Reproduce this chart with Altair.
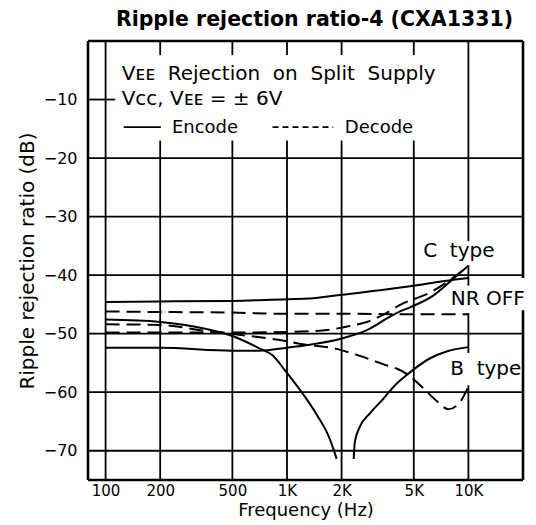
import altair as alt
import pandas as pd

FONT = "DejaVu Sans"

TITLE = "Ripple rejection ratio-4 (CXA1331)"
X_TITLE = "Frequency (Hz)"
Y_TITLE = "Ripple rejection ratio (dB)"

X_DOMAIN = [80, 20000]
Y_DOMAIN = [-75, 0]
FREQ_TICKS = [100, 200, 500, 1000, 2000, 5000, 10000]
FREQ_LABELS = ["100", "200", "500", "1K", "2K", "5K", "10K"]
DB_TICKS = [-10, -20, -30, -40, -50, -60, -70]

# ---- Encode curves (solid) ----
ENC_NROFF_F = [100, 200, 500, 1000, 1334, 1954, 3255, 4775, 8260, 10000]
ENC_NROFF_DB = [-44.6, -44.5, -44.4, -44.1, -44.0, -43.4, -42.6, -41.9, -40.8, -40.5]

ENC_B_LOW_F = [100, 200, 349, 500, 704, 832, 977, 1173, 1456, 1717, 1879]
ENC_B_LOW_DB = [-47.6, -48.0, -49.1, -50.4, -52.5, -53.7, -56.3, -59.5, -63.8, -67.9, -71.4]

ENC_B_HIGH_F = [2333, 2366, 2522, 2866, 3381, 3940, 4594, 6154, 7650, 10000]
ENC_B_HIGH_DB = [-71.4, -68.5, -65.9, -63.6, -61.2, -58.8, -57.0, -54.2, -53.0, -52.3]

ENC_C_F = [100, 200, 500, 704, 1000, 1334, 1954, 2758, 3700, 4198, 4775, 6397, 8260, 10000]
ENC_C_DB = [-52.4, -52.4, -52.9, -52.9, -52.4, -51.9, -50.9, -49.4, -47.1, -46.2, -45.5, -43.5, -40.6, -38.4]

# ---- Decode curves (dashed) ----
DEC_NROFF_F = [100, 200, 500, 1000, 2000, 5000, 10000]
DEC_NROFF_DB = [-46.2, -46.3, -46.4, -46.6, -46.6, -46.7, -46.7]

DEC_B_F = [100, 200, 349, 620, 1000, 1219, 1879, 2523, 3381, 4048, 4594, 5636, 6736, 7745, 9036, 10000]
DEC_B_DB = [-48.4, -48.5, -49.5, -50.4, -51.3, -51.8, -52.6, -53.8, -55.2, -56.0, -56.9, -59.3, -61.6, -62.9, -61.6, -59.0]

DEC_C_F = [100, 500, 1000, 1514, 2217, 2758, 3467, 4198, 6397, 8260, 10000]
DEC_C_DB = [-49.8, -49.8, -49.7, -49.5, -48.7, -48.0, -46.6, -45.1, -42.7, -40.4, -38.4]

# ---- grid segments (freq / dB) ----
VGRID_F = [100, 200, 200, 500, 500, 1000, 1000, 2000, 2000, 5000, 5000, 10000, 10000, 10000, 10000]
VGRID_TOP = [0, 0, -17, 0, -17, 0, -17, 0, -17, 0, -17, 0, -38.3, -46.5, -58.8]
VGRID_BOT = [-75, -2.4, -75, -2.4, -75, -2.4, -75, -2.4, -75, -2.4, -75, -34.2, -41.8, -53.3, -75]

HGRID_DB = [-10, -20, -30, -40, -50, -60, -70]
HGRID_F1 = [80, 80, 80, 80, 80, 80, 80]
HGRID_F2 = [113, 20000, 20000, 20000, 20000, 20000, 20000]

FRAME_H_DB = [0, -75]
FRAME_V_F = [80, 20000, 20000]
FRAME_V_TOP = [0, 0, -46.0]
FRAME_V_BOT = [-75, -40.5, -75]

# ---- annotation texts ----
SP = "\u00a0 "
TEXT_STR = ["V\u1d07\u1d07" + SP + "Rejection" + SP + "on" + SP + "Split" + SP + "Supply",
            "Vcc, V\u1d07\u1d07 = \u00b1 6V",
            "Encode", "Decode", "C" + SP + "type", "NR OFF", "B" + SP + "type"]
TEXT_F = [122.6, 122.6, 232, 2083, 5633, 8000, 7943]
TEXT_DB = [-6.6, -11.0, -15.7, -15.7, -36.9, -45.1, -57.1]
TEXT_SIZE = [20, 20, 18, 18, 20, 20, 20]

LEG_SOLID_F = [125.8, 201.7]
LEG_DASH_F = [832, 1800]
LEG_DB = -14.7

xs = alt.Scale(type="log", domain=X_DOMAIN, nice=False)
ys = alt.Scale(domain=Y_DOMAIN, nice=False, zero=False)

label_expr = ""
for v, l in zip(FREQ_TICKS, FREQ_LABELS):
    label_expr += f"datum.value == {v} ? '{l}' : "
label_expr += "''"

xaxis = alt.Axis(values=FREQ_TICKS, labelExpr=label_expr, title=X_TITLE,
                 labelFontSize=15, labelPadding=3, titleFontSize=18, titlePadding=3)
yaxis = alt.Axis(values=DB_TICKS, title=Y_TITLE, labelFontSize=16, labelPadding=11,
                 titleFontSize=20, titlePadding=6)


def X(f):
    return alt.X(f"{f}:Q", scale=xs, axis=xaxis)


def Y(f):
    return alt.Y(f"{f}:Q", scale=ys, axis=yaxis)


rows = []
for name, kind, fs, ds in [
    ("enc_nroff", "Encode", ENC_NROFF_F, ENC_NROFF_DB),
    ("enc_b_low", "Encode", ENC_B_LOW_F, ENC_B_LOW_DB),
    ("enc_b_high", "Encode", ENC_B_HIGH_F, ENC_B_HIGH_DB),
    ("enc_c", "Encode", ENC_C_F, ENC_C_DB),
    ("dec_nroff", "Decode", DEC_NROFF_F, DEC_NROFF_DB),
    ("dec_b", "Decode", DEC_B_F, DEC_B_DB),
    ("dec_c", "Decode", DEC_C_F, DEC_C_DB),
]:
    for i, (f, d) in enumerate(zip(fs, ds)):
        rows.append({"curve": name, "kind": kind, "i": i, "f": f, "db": d})
curves = pd.DataFrame(rows)

vgrid = pd.DataFrame({"f": VGRID_F, "top": VGRID_TOP, "bot": VGRID_BOT})
hgrid = pd.DataFrame({"db": HGRID_DB, "f1": HGRID_F1, "f2": HGRID_F2})
frame_h = pd.DataFrame({"db": FRAME_H_DB, "f1": [X_DOMAIN[0]] * 2, "f2": [X_DOMAIN[1]] * 2})
frame_v = pd.DataFrame({"f": FRAME_V_F, "top": FRAME_V_TOP, "bot": FRAME_V_BOT})
texts = pd.DataFrame({"t": TEXT_STR, "f": TEXT_F, "db": TEXT_DB, "s": TEXT_SIZE})
leg_solid = pd.DataFrame({"f1": [LEG_SOLID_F[0]], "f2": [LEG_SOLID_F[1]], "db": [LEG_DB]})
leg_dash = pd.DataFrame({"f1": [LEG_DASH_F[0]], "f2": [LEG_DASH_F[1]], "db": [LEG_DB]})

GRID_W = 1.8
vgrid_l = alt.Chart(vgrid).mark_rule(color="black", strokeWidth=GRID_W).encode(
    x=X("f"), y=Y("top"), y2="bot:Q")
hgrid_l = alt.Chart(hgrid).mark_rule(color="black", strokeWidth=GRID_W).encode(
    y=Y("db"), x=X("f1"), x2="f2:Q")
frame_hl = alt.Chart(frame_h).mark_rule(color="black", strokeWidth=2.6).encode(
    y=Y("db"), x=X("f1"), x2="f2:Q")
frame_vl = alt.Chart(frame_v).mark_rule(color="black", strokeWidth=2.6).encode(
    x=X("f"), y=Y("top"), y2="bot:Q")

solid_l = alt.Chart(curves[curves.kind == "Encode"]).mark_line(
    color="black", strokeWidth=2, interpolate="monotone").encode(
    x=X("f"), y=Y("db"), detail="curve:N", order="i:Q")
dash_l = alt.Chart(curves[curves.kind == "Decode"]).mark_line(
    color="black", strokeWidth=2, interpolate="monotone", strokeDash=[14, 7]).encode(
    x=X("f"), y=Y("db"), detail="curve:N", order="i:Q")

leg_s = alt.Chart(leg_solid).mark_rule(color="black", strokeWidth=1.8).encode(
    x=X("f1"), x2="f2:Q", y=Y("db"))
leg_d = alt.Chart(leg_dash).mark_rule(color="black", strokeWidth=1.8, strokeDash=[6, 4]).encode(
    x=X("f1"), x2="f2:Q", y=Y("db"))

text_l = alt.Chart(texts).mark_text(align="left", baseline="alphabetic", font=FONT,
                                    color="black").encode(
    x=X("f"), y=Y("db"), text="t:N", size=alt.Size("s:Q", scale=None, legend=None))

chart = alt.layer(vgrid_l, hgrid_l, frame_hl, frame_vl, solid_l, dash_l, leg_s, leg_d, text_l).properties(
    width=435, height=439,
    title=alt.TitleParams(TITLE, font=FONT, fontSize=20.5, fontWeight="bold", color="black",
                          anchor="middle", offset=9, dx=9),
    padding={"left": 80, "top": 33, "right": 5, "bottom": 45},
    autosize=alt.AutoSizeParams(type="none"),
).configure_view(stroke=None).configure_axis(
    labelFont=FONT, titleFont=FONT, labelColor="black", titleColor="black",
    grid=False, domain=False, ticks=False, titleFontWeight="normal")

chart.save("out.html", embed_options={"renderer": "svg", "actions": False})
